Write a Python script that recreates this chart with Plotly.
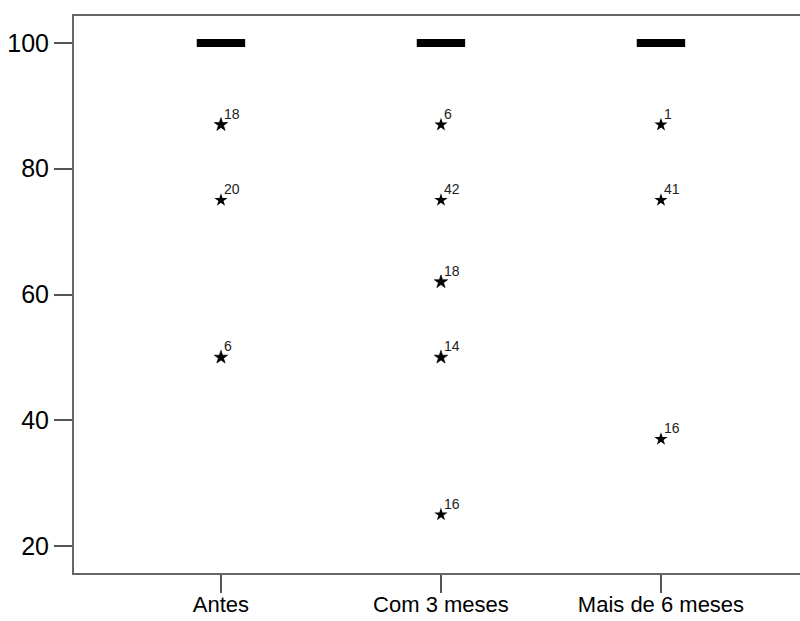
import plotly.graph_objects as go

categories = ["Antes", "Com 3 meses", "Mais de 6 meses"]
medians = [100, 100, 100]
q1 = [100, 100, 100]
q3 = [100, 100, 100]

out_cat = ["Antes", "Antes", "Antes",
           "Com 3 meses", "Com 3 meses", "Com 3 meses", "Com 3 meses", "Com 3 meses",
           "Mais de 6 meses", "Mais de 6 meses", "Mais de 6 meses"]
out_val = [87, 75, 50, 87, 75, 62, 50, 25, 87, 75, 37]
out_lab = ["18", "20", "6", "6", "42", "18", "14", "16", "1", "41", "16"]
out_bold = [1, 0, 1, 0, 0, 1, 1, 0, 0, 0, 0]

y_ticks = [20, 40, 60, 80, 100]

fig = go.Figure()

fig.add_trace(go.Box(
    x=categories, q1=q1, median=medians, q3=q3,
    lowerfence=q1, upperfence=q3,
    width=0.22, whiskerwidth=0,
    line=dict(color="black", width=8), fillcolor="black",
    boxpoints=False, hoverinfo="skip", showlegend=False,
))

fig.add_trace(go.Scatter(
    x=out_cat, y=out_val, mode="markers",
    marker=dict(symbol="star", size=10, color="black",
                line=dict(color="black", width=[0.7 if b else 0 for b in out_bold])),
    hoverinfo="skip", showlegend=False,
))

for c, v, t in zip(out_cat, out_val, out_lab):
    fig.add_annotation(x=c, y=v, text=t, showarrow=False,
                       xanchor="left", yanchor="bottom", xshift=1, yshift=1,
                       font=dict(family="Liberation Sans, Arial", size=14, color="#222"))

fig.update_layout(
    template="none",
    width=800, height=621,
    margin=dict(l=74, r=0, t=16, b=48),
    plot_bgcolor="white", paper_bgcolor="white",
    xaxis=dict(type="category", categoryorder="array", categoryarray=categories,
               range=[-0.668, 2.632], showgrid=False, zeroline=False, automargin=False,
               showline=True, linecolor="#666", linewidth=2, mirror=True,
               ticks="outside", ticklen=18, tickwidth=2, tickcolor="#555",
               ticklabelstandoff=-7,
               tickfont=dict(family="Liberation Sans, Arial", size=22, color="black")),
    yaxis=dict(range=[15.71, 104.29], tickvals=y_ticks, showgrid=False, zeroline=False,
               automargin=False,
               showline=True, linecolor="#666", linewidth=2,
               ticks="outside", ticklen=18, tickwidth=2, tickcolor="#555",
               tickfont=dict(family="Liberation Sans, Arial", size=25, color="black")),
)

fig.write_html("out.html")
